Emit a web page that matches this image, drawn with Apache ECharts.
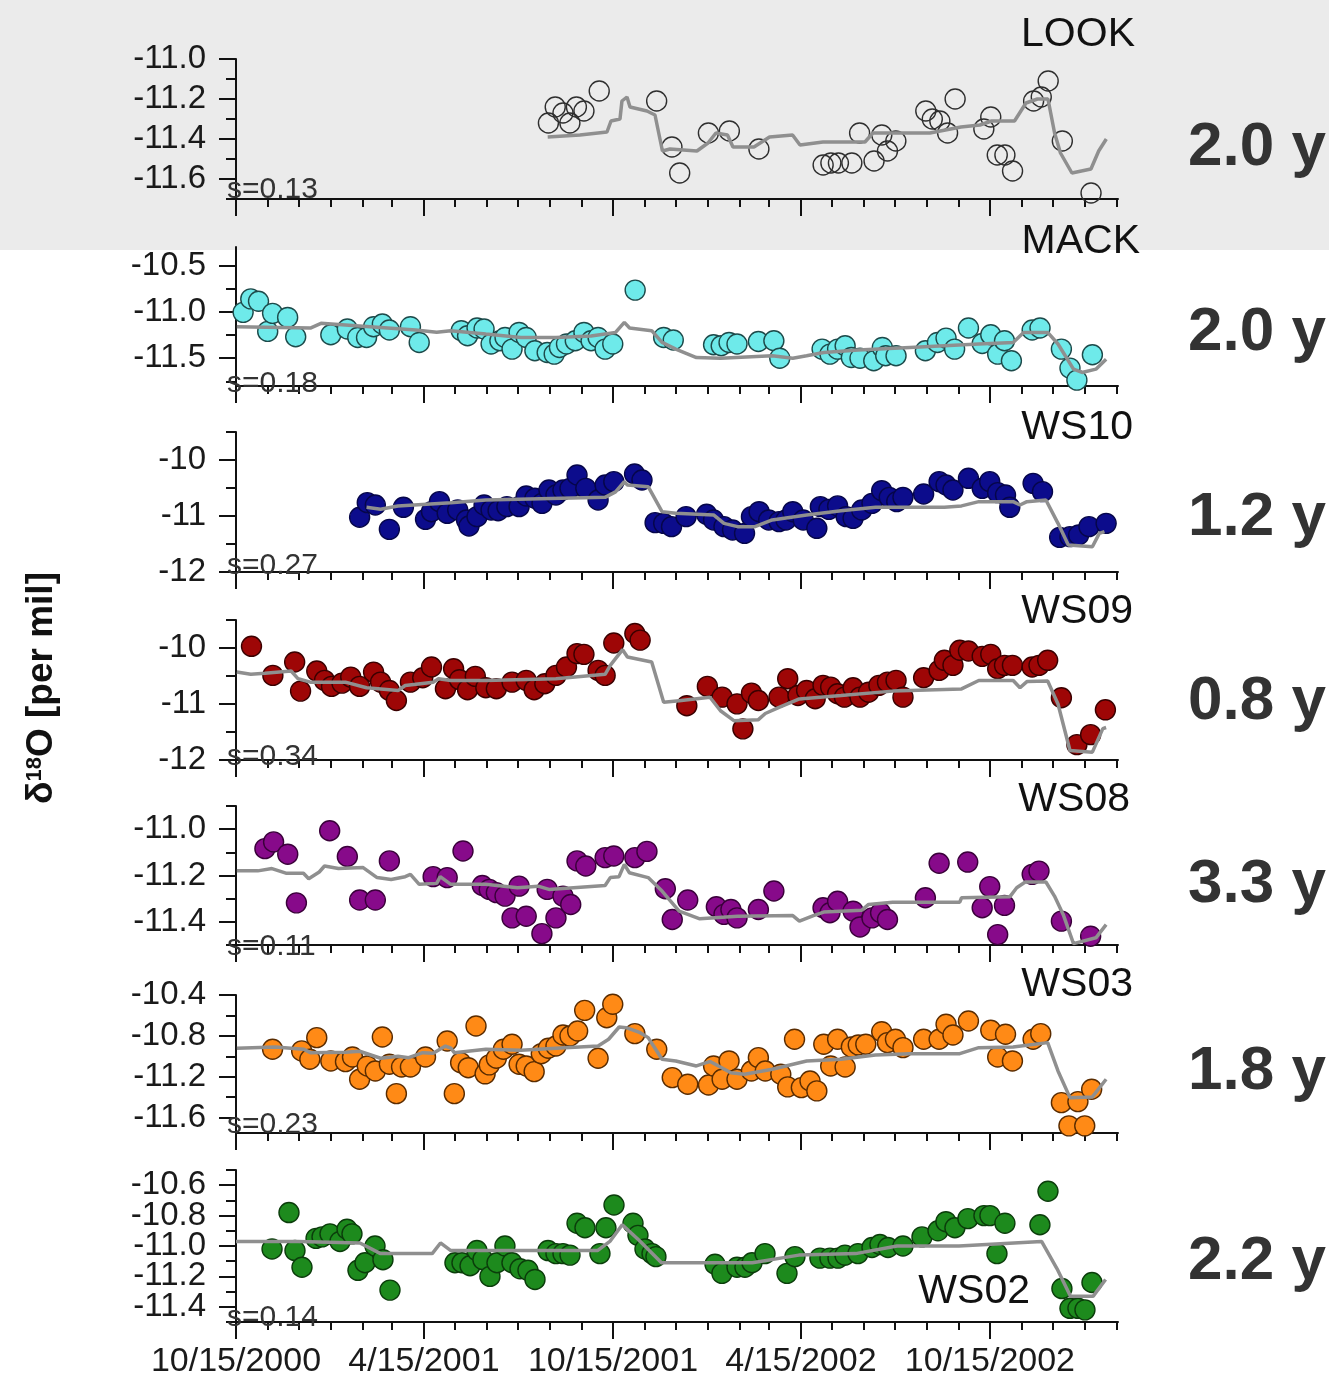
<!DOCTYPE html>
<html>
<head>
<meta charset="utf-8">
<script src="https://cdn.jsdelivr.net/npm/echarts@6/dist/echarts.min.js"></script>
<style>
  html, body { margin: 0; padding: 0; }
  body { background: linear-gradient(#ebebeb 0, #ebebeb 250px, #ffffff 250px); }
  #chart { width: 1329px; height: 1382px; }
</style>
</head>
<body>
<div id="chart"></div>
<script>
// Sampling time is given in days counted from 15 Oct 2000.
const START = Date.UTC(2000, 9, 15);
const DAY = 86400000;
const END_DAY = 854;
const MAJOR_TICK_DATES = ['2000-10-15', '2001-04-15', '2001-10-15', '2002-04-15', '2002-10-15'];

const STATIONS = ['LOOK', 'MACK', 'WS10', 'WS09', 'WS08', 'WS03', 'WS02'];
const MTT_LABELS = ['2.0 y', '2.0 y', '1.2 y', '0.8 y', '3.3 y', '1.8 y', '2.2 y'];
const SIGMA_LABELS = ['s=0.13', 's=0.18', 's=0.27', 's=0.34', 's=0.11', 's=0.23', 's=0.14'];

const Y_MIN = [-11.7, -11.8, -12, -12, -11.5, -11.75, -11.5];
const Y_MAX = [-11.0, -10.3, -9.5, -9.5, -10.9, -10.4, -10.5];
const Y_MAJOR = [
  [-11.6, -11.4, -11.2, -11.0],
  [-11.5, -11.0, -10.5],
  [-12, -11, -10],
  [-12, -11, -10],
  [-11.4, -11.2, -11.0],
  [-11.6, -11.2, -10.8, -10.4],
  [-11.4, -11.2, -11.0, -10.8, -10.6]
];
const Y_MINOR = [
  [-11.7, -11.5, -11.3, -11.1],
  [-11.75, -11.25, -10.75],
  [-11.5, -10.5, -9.5],
  [-11.5, -10.5, -9.5],
  [-11.5, -11.3, -11.1, -10.9],
  [-11.4, -11.0, -10.6],
  [-11.5, -11.3, -11.1, -10.9, -10.7, -10.5]
];
const Y_DECIMALS = [1, 1, 0, 0, 1, 1, 1];

// Measured stream-water δ18O: [day, value]
const LOOK_OBS = [[302.5,-11.32],[309.1,-11.24],[316.6,-11.27],[323.3,-11.32],[329.6,-11.24],[336.9,-11.26],[351.7,-11.16],[407.3,-11.21],[422.1,-11.44],[429.6,-11.57],[457.4,-11.37],[477.7,-11.36],[506.3,-11.45],[568.5,-11.53],[576,-11.52],[583.3,-11.52],[596.3,-11.52],[603.8,-11.37],[617.8,-11.51],[625.3,-11.38],[630.8,-11.46],[638.9,-11.41],[667.9,-11.26],[674.2,-11.30],[681.5,-11.31],[689,-11.37],[696.3,-11.20],[724.1,-11.35],[730.8,-11.29],[737.1,-11.48],[744.5,-11.48],[751.9,-11.56],[772.3,-11.21],[779.7,-11.19],[786.4,-11.11],[800.1,-11.41],[827.9,-11.67]];
const MACK_OBS = [[6.9,-11.005],[14.3,-10.86],[21.8,-10.886],[30.7,-11.211],[35.4,-11.016],[50,-11.06],[57.8,-11.268],[91.8,-11.247],[107.8,-11.185],[117.9,-11.276],[126.4,-11.276],[133.2,-11.16],[141.7,-11.131],[148.5,-11.196],[168.9,-11.16],[177.4,-11.33],[218.1,-11.203],[224.2,-11.258],[233.4,-11.174],[240.2,-11.185],[247,-11.347],[255.5,-11.312],[260.5,-11.276],[267.3,-11.402],[274.1,-11.222],[281,-11.276],[289.4,-11.42],[301.3,-11.438],[308.1,-11.456],[313.2,-11.384],[320,-11.347],[328.5,-11.312],[336.9,-11.222],[343.8,-11.312],[350.6,-11.276],[357.4,-11.402],[364.8,-11.347],[386.5,-10.765],[414.1,-11.276],[423.4,-11.304],[462.4,-11.355],[469.8,-11.366],[477.4,-11.33],[485.1,-11.347],[505.8,-11.32],[520.8,-11.312],[526.5,-11.5],[567.5,-11.402],[575.1,-11.456],[582.5,-11.402],[589.8,-11.366],[595.8,-11.493],[604.2,-11.5],[617.5,-11.528],[625.8,-11.384],[629.1,-11.474],[639.1,-11.474],[667.5,-11.42],[679.2,-11.33],[687.5,-11.283],[695.8,-11.402],[709.2,-11.174],[722.5,-11.341],[730.8,-11.247],[737.5,-11.456],[744.1,-11.312],[750.8,-11.528],[770.9,-11.196],[778.5,-11.174],[799.2,-11.402],[807.5,-11.607],[814.2,-11.737],[829.2,-11.463]];
const WS10_OBS = [[119.7,-11.023],[127.1,-10.762],[134.9,-10.804],[148.5,-11.238],[162.1,-10.845],[183.5,-11.06],[189.3,-10.923],[197,-10.744],[204.5,-10.952],[214.7,-10.893],[223.2,-11.071],[225.6,-11.179],[233.4,-11.012],[240.2,-10.804],[247,-10.893],[253.8,-10.905],[262.3,-10.833],[274.1,-10.833],[281,-10.643],[289.4,-10.684],[296.3,-10.774],[303,-10.536],[309.8,-10.625],[316.6,-10.536],[323.4,-10.506],[330.2,-10.268],[338.7,-10.506],[350.6,-10.714],[357.4,-10.446],[365.8,-10.387],[385.9,-10.25],[393.1,-10.357],[405.8,-11.119],[414.1,-11.131],[421.7,-11.19],[435.8,-11.012],[455.7,-10.97],[462.4,-11.071],[472.5,-11.19],[480.8,-11.25],[492.4,-11.31],[499.1,-11.012],[506.5,-10.923],[515.8,-11.071],[525.8,-11.101],[532.5,-11.071],[539.1,-10.923],[549.2,-11.071],[562.4,-11.22],[565.8,-10.833],[574.1,-10.881],[582.5,-10.82],[590.8,-11.012],[597.5,-11.042],[605.8,-10.893],[615.8,-10.774],[625.2,-10.548],[632.5,-10.667],[639.8,-10.744],[645.8,-10.667],[665.8,-10.607],[680.8,-10.387],[687.5,-10.446],[694.2,-10.536],[709.2,-10.327],[722.5,-10.506],[729.8,-10.387],[737.5,-10.583],[745.1,-10.625],[749.2,-10.845],[771.8,-10.417],[780.9,-10.565],[797.5,-11.381],[807.5,-11.369],[815.9,-11.339],[825.9,-11.19],[842.5,-11.131]];
const WS09_OBS = [[15,-9.97],[35.7,-10.489],[56.8,-10.25],[62.5,-10.77],[78.2,-10.412],[85.7,-10.579],[92.5,-10.686],[102.6,-10.627],[111.1,-10.52],[119.7,-10.686],[133.2,-10.43],[140,-10.61],[148.5,-10.758],[155.3,-10.937],[168.9,-10.61],[180.8,-10.532],[189.3,-10.34],[202.8,-10.728],[210.7,-10.37],[216.4,-10.566],[224.2,-10.746],[231.7,-10.507],[241.9,-10.71],[252.1,-10.728],[267.3,-10.61],[281,-10.579],[288.7,-10.746],[299,-10.638],[309.8,-10.489],[320,-10.34],[330.2,-10.1],[336.9,-10.113],[350.6,-10.4],[357.4,-10.489],[365.8,-9.91],[386.2,-9.742],[391.3,-9.86],[436.5,-11.03],[456.4,-10.686],[470.7,-10.878],[485.1,-10.997],[490.8,-11.444],[499.1,-10.806],[505.8,-10.937],[525.8,-10.878],[534.2,-10.548],[544.1,-10.848],[552.5,-10.758],[560.8,-10.907],[568.4,-10.668],[575.8,-10.699],[582.5,-10.817],[589.1,-10.878],[597.5,-10.71],[604.2,-10.878],[612.5,-10.789],[622.5,-10.668],[630.8,-10.61],[639.1,-10.579],[645.8,-10.878],[665.8,-10.532],[680.8,-10.4],[685.9,-10.22],[694.2,-10.31],[700.8,-10.041],[709.2,-10.054],[722.5,-10.149],[730.8,-10.113],[737.5,-10.37],[744.1,-10.31],[751.8,-10.31],[770.9,-10.34],[777.5,-10.31],[785.9,-10.22],[799.2,-10.889],[814.2,-11.726],[827.5,-11.547],[841.8,-11.104]];
const WS08_OBS = [[28,-11.084],[36.4,-11.055],[50.1,-11.108],[58.5,-11.318],[90.7,-11.007],[107.8,-11.118],[119.7,-11.306],[134.9,-11.306],[148.5,-11.137],[190.9,-11.205],[204.5,-11.209],[219.8,-11.094],[238.5,-11.243],[245.2,-11.26],[252.1,-11.274],[260.5,-11.289],[267.3,-11.383],[274.1,-11.246],[281,-11.376],[296.2,-11.451],[301.3,-11.26],[309.8,-11.383],[316.6,-11.289],[324.1,-11.325],[330.2,-11.137],[338.7,-11.159],[357.4,-11.123],[365.8,-11.116],[386.2,-11.123],[397.9,-11.096],[415.7,-11.257],[422.4,-11.39],[437.4,-11.306],[465.1,-11.335],[472.5,-11.368],[479.2,-11.347],[485.1,-11.383],[505.8,-11.347],[520.8,-11.267],[568.4,-11.339],[575.1,-11.361],[582.5,-11.311],[597.5,-11.354],[604.2,-11.422],[615.8,-11.383],[624.1,-11.361],[630.8,-11.39],[667.5,-11.296],[680.8,-11.147],[708.5,-11.142],[722.5,-11.339],[729.8,-11.248],[737.5,-11.455],[744.1,-11.329],[770.9,-11.195],[777.5,-11.181],[799.2,-11.397],[827.5,-11.462]];
const WS03_OBS = [[35.4,-10.931],[63.6,-10.947],[71.5,-11.029],[78.2,-10.817],[91.8,-11.045],[106,-11.052],[112.8,-11.006],[119.7,-11.224],[127.1,-11.094],[134.9,-11.143],[141.7,-10.811],[148.5,-11.077],[155.3,-11.365],[160.3,-11.104],[168.9,-11.104],[183.5,-11.006],[204.5,-10.85],[211.4,-11.365],[217.5,-11.062],[224.9,-11.111],[232.4,-10.703],[241.2,-11.171],[245.2,-11.084],[252.1,-11.019],[258.9,-10.931],[267.3,-10.882],[274.1,-11.077],[281,-11.094],[288.7,-11.15],[295.6,-10.974],[302.4,-10.921],[309.8,-10.899],[316.6,-10.791],[323.4,-10.801],[330.8,-10.752],[337.6,-10.55],[350.6,-11.019],[359,-10.622],[364.8,-10.491],[386.2,-10.778],[407.4,-10.931],[422.4,-11.208],[437.4,-11.273],[457.5,-11.28],[462.4,-11.094],[470.7,-11.224],[477.4,-11.045],[485.1,-11.224],[499.1,-11.143],[505.8,-11.013],[512.5,-11.143],[527.5,-11.175],[534.2,-11.299],[540.8,-10.833],[547.4,-11.306],[555.8,-11.241],[562.4,-11.338],[569.1,-10.882],[575.8,-11.094],[582.5,-10.833],[589.8,-11.104],[595.8,-10.908],[602.5,-10.889],[609.8,-10.882],[625.2,-10.759],[630.8,-10.866],[638.5,-10.833],[645.8,-10.915],[665.8,-10.833],[680.8,-10.833],[687.5,-10.686],[694.2,-10.791],[709.2,-10.654],[730.8,-10.745],[737.5,-11.006],[745.1,-10.784],[751.8,-11.045],[771.8,-10.833],[779.2,-10.778],[799.2,-11.453],[806.5,-11.68],[815.2,-11.443],[821.8,-11.68],[828.5,-11.322]];
const WS02_OBS = [[34.9,-11.02],[51.3,-10.78],[57.1,-11.03],[63.9,-11.14],[77.5,-10.95],[83.3,-10.94],[91,-10.92],[100.7,-10.97],[107.5,-10.89],[112.3,-10.92],[118.1,-11.16],[124.9,-11.11],[134.6,-11.0],[142.3,-11.09],[149.1,-11.29],[212,-11.11],[218.8,-11.11],[226.6,-11.13],[233.3,-11.03],[239.1,-11.09],[245.9,-11.20],[252.7,-11.11],[260.4,-11.0],[267.2,-11.11],[275,-11.15],[282.7,-11.16],[289.5,-11.22],[302.1,-11.03],[309.8,-11.05],[316.6,-11.05],[323.4,-11.06],[330.2,-10.85],[337.9,-10.88],[352.4,-11.05],[358.2,-10.88],[366,-10.73],[384.4,-10.85],[389.2,-10.93],[396,-11.02],[402.8,-11.05],[406.6,-11.07],[463.8,-11.12],[470.5,-11.18],[485.1,-11.14],[492.8,-11.14],[499.6,-11.11],[512.2,-11.05],[533.5,-11.18],[541.2,-11.07],[565.4,-11.08],[575.1,-11.08],[582.9,-11.08],[589.6,-11.06],[602.2,-11.05],[615.8,-11.01],[623.5,-10.99],[631.3,-11.01],[645.8,-11.0],[664.2,-10.94],[679.7,-10.90],[687.4,-10.84],[696.1,-10.88],[708.7,-10.82],[724.2,-10.80],[730,-10.80],[736.8,-11.05],[744.5,-10.85],[778.4,-10.86],[786.2,-10.64],[799.7,-11.28],[807.5,-11.41],[815.2,-11.41],[822,-11.42],[828.8,-11.24]];

// Modelled δ18O (gray curves): [day, value]
const LOOK_MODEL = [[301.8,-11.39],[333,-11.38],[359.2,-11.365],[363.1,-11.31],[371.8,-11.30],[373.7,-11.21],[378.6,-11.19],[381.5,-11.24],[397.9,-11.26],[405.7,-11.28],[412.9,-11.46],[420.2,-11.45],[446.3,-11.46],[457,-11.42],[464.7,-11.37],[475.9,-11.38],[481.2,-11.44],[501.5,-11.44],[516.6,-11.39],[538.9,-11.38],[546.1,-11.43],[568.3,-11.415],[609,-11.415],[616.7,-11.37],[671.9,-11.37],[701.9,-11.34],[720.3,-11.33],[731.6,-11.31],[753.8,-11.31],[764.9,-11.22],[776,-11.20],[786.2,-11.20],[792.6,-11.37],[798.3,-11.47],[809.4,-11.57],[827.8,-11.55],[835.3,-11.46],[842.7,-11.40]];
const MACK_MODEL = [[0.8,-11.16],[72,-11.175],[82.3,-11.124],[174,-11.196],[194.3,-11.22],[207.9,-11.203],[241.9,-11.24],[275.8,-11.276],[309.8,-11.276],[343.7,-11.26],[367.5,-11.222],[376,-11.113],[381.1,-11.174],[402.5,-11.203],[412.5,-11.33],[425.8,-11.402],[445.8,-11.493],[469.1,-11.5],[519.2,-11.474],[539.1,-11.5],[552.5,-11.474],[569.1,-11.438],[602.5,-11.412],[652.5,-11.384],[719.2,-11.347],[752.5,-11.33],[762.6,-11.222],[785.9,-11.222],[795.9,-11.347],[810.9,-11.618],[819.2,-11.654],[832.6,-11.618],[842.5,-11.51]];
const WS10_MODEL = [[126.4,-10.845],[140,-10.88],[156.8,-10.82],[208,-10.762],[241.9,-10.714],[357.3,-10.667],[367.5,-10.57],[376,-10.387],[379,-10.446],[399.1,-10.476],[412.5,-10.923],[425.8,-10.952],[462.4,-10.98],[472.5,-11.131],[485.7,-11.19],[502.5,-11.19],[519.2,-11.071],[552.5,-10.982],[585.8,-10.905],[619.2,-10.845],[685.9,-10.845],[702.5,-10.82],[719.2,-10.744],[752.5,-10.744],[759.1,-10.804],[765.8,-10.744],[784.2,-10.714],[795.9,-11.131],[805.9,-11.518],[829.2,-11.548],[835.9,-11.31],[840.9,-11.28]];
const WS09_MODEL = [[0.8,-10.43],[14.3,-10.47],[28,-10.45],[53.4,-10.41],[60.2,-10.55],[72,-10.61],[106,-10.61],[126.4,-10.71],[156.9,-10.76],[163.8,-10.67],[190.9,-10.61],[196.1,-10.55],[208,-10.58],[241.9,-10.58],[309.8,-10.55],[357.4,-10.47],[362.4,-10.31],[374.3,-10.03],[379,-10.16],[402.5,-10.25],[414.1,-10.97],[429.1,-10.94],[458.9,-10.88],[469.1,-11.12],[482.4,-11.30],[505.8,-11.28],[512.5,-11.17],[525.8,-11.06],[545.5,-10.91],[585.8,-10.85],[635.8,-10.77],[702.5,-10.73],[719.2,-10.58],[752.5,-10.58],[759.1,-10.71],[765.8,-10.60],[785.9,-10.59],[795.9,-11.0],[807.5,-11.83],[829.2,-11.86],[839.3,-11.44],[842.5,-11.42]];
const WS08_MODEL = [[0.8,-11.18],[21.1,-11.18],[34.8,-11.17],[48.3,-11.19],[65.3,-11.19],[70.4,-11.214],[80.6,-11.185],[85.7,-11.159],[99.2,-11.17],[123.1,-11.166],[136.6,-11.209],[150.2,-11.217],[163.8,-11.205],[168.9,-11.195],[177.4,-11.238],[194.3,-11.234],[197.7,-11.205],[208,-11.238],[241.9,-11.238],[272.5,-11.253],[292.6,-11.246],[303,-11.26],[357.4,-11.243],[362.4,-11.209],[370.9,-11.205],[376,-11.152],[380.8,-11.188],[399.1,-11.209],[412.5,-11.267],[429.1,-11.354],[449.1,-11.387],[485.7,-11.376],[539.1,-11.373],[545.5,-11.397],[559.1,-11.373],[569.1,-11.358],[605.8,-11.35],[612.5,-11.325],[635.8,-11.315],[700.8,-11.315],[702.5,-11.296],[749.2,-11.292],[755.9,-11.253],[764.2,-11.228],[784.2,-11.228],[792.5,-11.289],[800.9,-11.368],[810.9,-11.494],[832.6,-11.469],[842.5,-11.412]];
const WS03_MODEL = [[0.8,-10.921],[38.1,-10.908],[65.3,-10.93],[72,-10.964],[106,-10.96],[119.7,-10.95],[140,-11.019],[156.9,-11.0],[167.2,-11.013],[180.8,-10.964],[190.9,-10.97],[202.8,-10.899],[208,-10.92],[211.4,-10.964],[241.9,-10.931],[275.9,-10.941],[309.8,-10.921],[350.6,-10.899],[360.8,-10.833],[371,-10.713],[377.8,-10.72],[391.3,-10.769],[399.1,-10.817],[412.5,-11.029],[425.8,-11.045],[445.8,-11.094],[459.1,-11.05],[479.2,-11.16],[492.4,-11.175],[519.2,-11.126],[552.5,-11.045],[585.8,-11.029],[619.2,-10.987],[652.6,-10.974],[700.8,-10.974],[719.2,-10.915],[752.5,-10.908],[785.9,-10.866],[795.9,-11.143],[807.5,-11.404],[829.2,-11.397],[842.5,-11.224]];
const WS02_MODEL = [[0,-10.97],[60,-10.97],[120,-10.98],[140,-11.05],[190,-11.05],[198,-10.98],[208,-11.03],[350,-11.03],[362,-10.97],[374,-10.86],[390,-10.96],[412,-11.11],[500,-11.11],[545,-11.06],[600,-11.05],[640,-11.0],[700,-11.0],[780,-10.97],[795,-11.15],[808,-11.33],[830,-11.33],[842,-11.22]];

const OBS = [LOOK_OBS, MACK_OBS, WS10_OBS, WS09_OBS, WS08_OBS, WS03_OBS, WS02_OBS];
const MODEL = [LOOK_MODEL, MACK_MODEL, WS10_MODEL, WS09_MODEL, WS08_MODEL, WS03_MODEL, WS02_MODEL];

// Marker styles per station
const FILL = ['rgba(0,0,0,0)', '#6eeaea', '#0c0c8c', '#9e0606', '#870a8a', '#ff8a16', '#1d8a1d'];
const EDGE = ['#2e2e2e', '#1d4a4a', '#06064a', '#3a0000', '#3a003a', '#5a2c00', '#0b3d0b'];

// Panel placement (pixels)
const PANEL_TOP = [59, 247, 432, 620, 806, 995, 1170];
const PANEL_HEIGHT = [140, 139, 140, 140, 139, 138, 152];
const PLOT_LEFT = 236;
const PLOT_WIDTH = 882;

const majorTicks = MAJOR_TICK_DATES.map(s => (Date.parse(s) - START) / DAY);
const minorTicks = [];
for (let k = 1; ; k++) {
  const t = (Date.UTC(2000, 9 + k, 15) - START) / DAY;
  if (t > END_DAY) break;
  minorTicks.push(t);
}

function dateLabel(v) {
  const dt = new Date(START + Math.round(v) * DAY);
  return (dt.getUTCMonth() + 1) + '/' + dt.getUTCDate() + '/' + dt.getUTCFullYear();
}

const FONT = 'Liberation Sans, Arial, sans-serif';
const grids = [], xAxes = [], yAxes = [], series = [];

function yLabelAxis(i, values) {
  // Tick labels only; alternate labels live on two overlaid axes so that
  // tightly spaced labels are all kept.
  return {
    type: 'value', gridIndex: i, position: 'left', min: Y_MIN[i], max: Y_MAX[i],
    axisLine: { show: false },
    axisTick: { show: false },
    axisLabel: {
      show: true, customValues: values, margin: 30, hideOverlap: false,
      formatter: v => v.toFixed(Y_DECIMALS[i]),
      fontSize: 33, fontFamily: FONT, color: '#1a1a1a'
    },
    splitLine: { show: false }
  };
}

STATIONS.forEach((name, i) => {
  const last = i === STATIONS.length - 1;
  grids.push({ left: PLOT_LEFT, width: PLOT_WIDTH, top: PANEL_TOP[i], height: PANEL_HEIGHT[i], outerBoundsMode: 'none' });

  xAxes.push({
    type: 'value', gridIndex: i, position: 'bottom', min: 0, max: END_DAY,
    axisLine: { show: true, onZero: false, lineStyle: { color: '#111', width: 2 } },
    axisTick: { show: true, length: 17, customValues: majorTicks, lineStyle: { color: '#111', width: 2 } },
    axisLabel: {
      show: last, customValues: majorTicks, formatter: dateLabel, margin: 23, hideOverlap: false,
      fontSize: 34, fontFamily: FONT, color: '#1a1a1a'
    },
    splitLine: { show: false }
  });
  xAxes.push({
    type: 'value', gridIndex: i, position: 'bottom', min: 0, max: END_DAY,
    axisLine: { show: false },
    axisTick: { show: true, length: 8, customValues: minorTicks, lineStyle: { color: '#111', width: 2 } },
    axisLabel: { show: false },
    splitLine: { show: false }
  });

  yAxes.push({
    type: 'value', gridIndex: i, position: 'left', min: Y_MIN[i], max: Y_MAX[i],
    axisLine: { show: true, onZero: false, lineStyle: { color: '#111', width: 2 } },
    axisTick: { show: true, length: 17, customValues: Y_MAJOR[i], lineStyle: { color: '#111', width: 2 } },
    axisLabel: { show: false },
    splitLine: { show: false }
  });
  yAxes.push({
    type: 'value', gridIndex: i, position: 'left', min: Y_MIN[i], max: Y_MAX[i],
    axisLine: { show: false },
    axisTick: { show: true, length: 10, customValues: Y_MINOR[i], lineStyle: { color: '#111', width: 2 } },
    axisLabel: { show: false },
    splitLine: { show: false }
  });
  yAxes.push(yLabelAxis(i, Y_MAJOR[i].filter((_, k) => k % 2 === 0)));
  yAxes.push(yLabelAxis(i, Y_MAJOR[i].filter((_, k) => k % 2 === 1)));

  series.push({
    type: 'scatter', name: name, xAxisIndex: 2 * i, yAxisIndex: 4 * i,
    data: OBS[i], symbol: 'circle', symbolSize: 20, clip: false, z: 2,
    itemStyle: { color: FILL[i], borderColor: EDGE[i], borderWidth: 1.4, opacity: 1 }
  });
  series.push({
    type: 'line', name: name + ' model', xAxisIndex: 2 * i, yAxisIndex: 4 * i,
    data: MODEL[i], showSymbol: false, symbol: 'none', clip: false, z: 3,
    lineStyle: { color: '#8f8f8f', width: 3.5 }
  });
});

// Station names, transit-time labels and spread labels
const TITLE_POS = [[1135, 35], [1140, 242], [1133, 428], [1133, 612], [1130, 800], [1133, 985], [1030, 1292]];
const MTT_Y = [148, 333, 518, 702, 885, 1072, 1262];
const SIGMA_Y = [190, 384, 566, 757, 947, 1125, 1318];

const graphics = [];
STATIONS.forEach((name, i) => {
  graphics.push({
    type: 'text', x: TITLE_POS[i][0], y: TITLE_POS[i][1], z: 10,
    style: { text: name, fontSize: 41, fontFamily: FONT, fill: '#111', align: 'right', verticalAlign: 'middle' }
  });
  graphics.push({
    type: 'text', x: 1326, y: MTT_Y[i], z: 10,
    style: { text: MTT_LABELS[i], fontSize: 62, fontWeight: 'bold', fontFamily: FONT, fill: '#333', align: 'right', verticalAlign: 'middle' }
  });
  graphics.push({
    type: 'text', x: 227, y: SIGMA_Y[i], z: 10,
    style: { text: SIGMA_LABELS[i], fontSize: 30, fontFamily: FONT, fill: '#333', align: 'left', verticalAlign: 'middle' }
  });
});
graphics.push({
  type: 'text', x: 42, y: 688, rotation: Math.PI / 2, z: 10,
  style: {
    text: '{a|δ}{s|18}{a|O [per mil]}', align: 'center', verticalAlign: 'middle',
    rich: {
      a: { fontSize: 37, fontWeight: 'bold', fontFamily: FONT, fill: '#111' },
      s: { fontSize: 22, fontWeight: 'bold', fontFamily: FONT, fill: '#111', verticalAlign: 'top', padding: [0, 0, 14, 0] }
    }
  }
});

const chart = echarts.init(document.getElementById('chart'), null, { renderer: 'canvas' });
chart.setOption({
  backgroundColor: 'transparent',
  animation: false,
  grid: grids,
  xAxis: xAxes,
  yAxis: yAxes,
  series: series,
  graphic: graphics
});
</script>
</body>
</html>
